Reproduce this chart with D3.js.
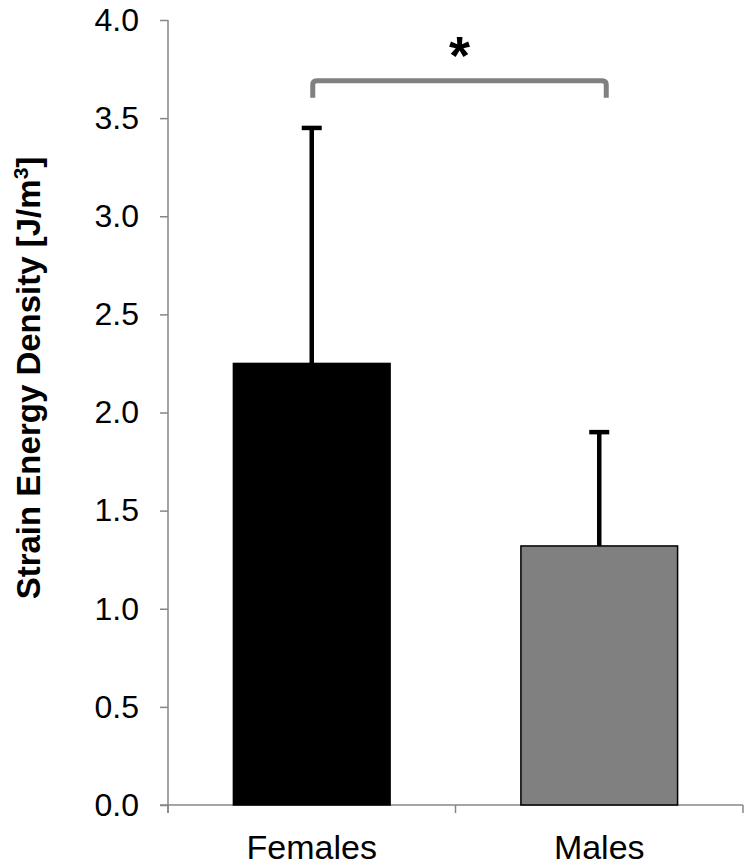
<!DOCTYPE html>
<html>
<head>
<meta charset="utf-8">
<script src="https://cdn.jsdelivr.net/npm/d3@7"></script>
<style>
  body { margin: 0; background: #fff; }
  text { font-family: "Liberation Sans", Arial, Helvetica, sans-serif; }
</style>
</head>
<body>
<div id="chart"></div>
<script>
const width = 750, height = 867;

// data
const groups = ["Females", "Males"];
const means = [2.25, 1.32];
const errors = [1.20, 0.58];       // upper error bar (SD)
const barColors = ["#000000", "#808080"];
const yTicks = [0, 0.5, 1.0, 1.5, 2.0, 2.5, 3.0, 3.5, 4.0];
const yLabel = "Strain Energy Density [J/m";
const sigLevel = 3.69;              // bracket height, data units
const sigMark = "*";

const axisColor = "#878787";

const svg = d3.select("#chart").append("svg")
    .attr("width", width)
    .attr("height", height);

const y = d3.scaleLinear()
    .domain([0, 4])
    .range([805, 20]);

const x = d3.scaleBand()
    .domain(groups)
    .range([168, 743])
    .padding(0);

const barW = x.bandwidth() * 0.545;
const cx = d => x(d) + x.bandwidth() / 2;

// y axis
const yAxis = svg.append("g")
    .attr("transform", "translate(168,0)")
    .call(d3.axisLeft(y).tickValues(yTicks).tickSize(8).tickPadding(21).tickFormat(d3.format(".1f")));
yAxis.select(".domain").attr("stroke", axisColor).attr("stroke-width", 1.5)
    .attr("d", "M0," + y(4) + "V" + (y(0) + 8));
yAxis.selectAll(".tick line").attr("stroke", axisColor).attr("stroke-width", 1.5);
yAxis.selectAll(".tick text")
    .attr("fill", "#000")
    .style("font-size", "32px");

// x axis
const xAxis = svg.append("g")
    .attr("transform", "translate(0," + y(0) + ")");
xAxis.append("line")
    .attr("x1", 160).attr("x2", 743)
    .attr("stroke", axisColor).attr("stroke-width", 1.5);
xAxis.selectAll("line.tk")
    .data([168, x("Males"), 743]).enter()
    .append("line")
    .attr("class", "tk")
    .attr("x1", d => d).attr("x2", d => d)
    .attr("y1", 0).attr("y2", 8)
    .attr("stroke", axisColor).attr("stroke-width", 1.5);
xAxis.selectAll("text")
    .data(groups).enter()
    .append("text")
    .attr("x", d => cx(d))
    .attr("y", 54)
    .attr("text-anchor", "middle")
    .style("font-size", "34px")
    .text(d => d);

// error bars (drawn under the bars)
const eb = svg.append("g");
groups.forEach(function (g, i) {
    eb.append("line")
        .attr("x1", cx(g)).attr("x2", cx(g))
        .attr("y1", y(means[i])).attr("y2", y(means[i] + errors[i]))
        .attr("stroke", "#000").attr("stroke-width", 4.5);
    eb.append("line")
        .attr("x1", cx(g) - 10).attr("x2", cx(g) + 10)
        .attr("y1", y(means[i] + errors[i])).attr("y2", y(means[i] + errors[i]))
        .attr("stroke", "#000").attr("stroke-width", 4.5);
});

// bars
svg.append("g").selectAll("rect")
    .data(groups).enter()
    .append("rect")
    .attr("x", d => cx(d) - barW / 2)
    .attr("width", barW)
    .attr("y", (d, i) => y(means[i]))
    .attr("height", (d, i) => y(0) - y(means[i]))
    .attr("fill", (d, i) => barColors[i])
    .attr("stroke", "#000")
    .attr("stroke-width", 1.5);

// significance bracket
const bx1 = cx("Females") + 1, bx2 = cx("Males") + 7;
const by = y(sigLevel), drop = 17, r = 4;
svg.append("path")
    .attr("d", "M" + bx1 + "," + (by + drop) + "V" + (by + r) + "Q" + bx1 + "," + by + " " + (bx1 + r) + "," + by +
        "H" + (bx2 - r) + "Q" + bx2 + "," + by + " " + bx2 + "," + (by + r) + "V" + (by + drop))
    .attr("fill", "none")
    .attr("stroke", "#808080")
    .attr("stroke-width", 5);
svg.append("text")
    .attr("x", (bx1 + bx2) / 2)
    .attr("y", by - 7)
    .attr("text-anchor", "middle")
    .style("font-size", "54px")
    .style("font-weight", "bold")
    .text(sigMark);

// y axis title
const title = svg.append("text")
    .attr("transform", "translate(40,378) rotate(-90)")
    .attr("text-anchor", "middle")
    .style("font-size", "33px")
    .style("font-weight", "bold");
title.append("tspan").text(yLabel);
title.append("tspan").attr("dy", -12).style("font-size", "21px").text("3");
title.append("tspan").attr("dy", 12).text("]");
</script>
</body>
</html>
